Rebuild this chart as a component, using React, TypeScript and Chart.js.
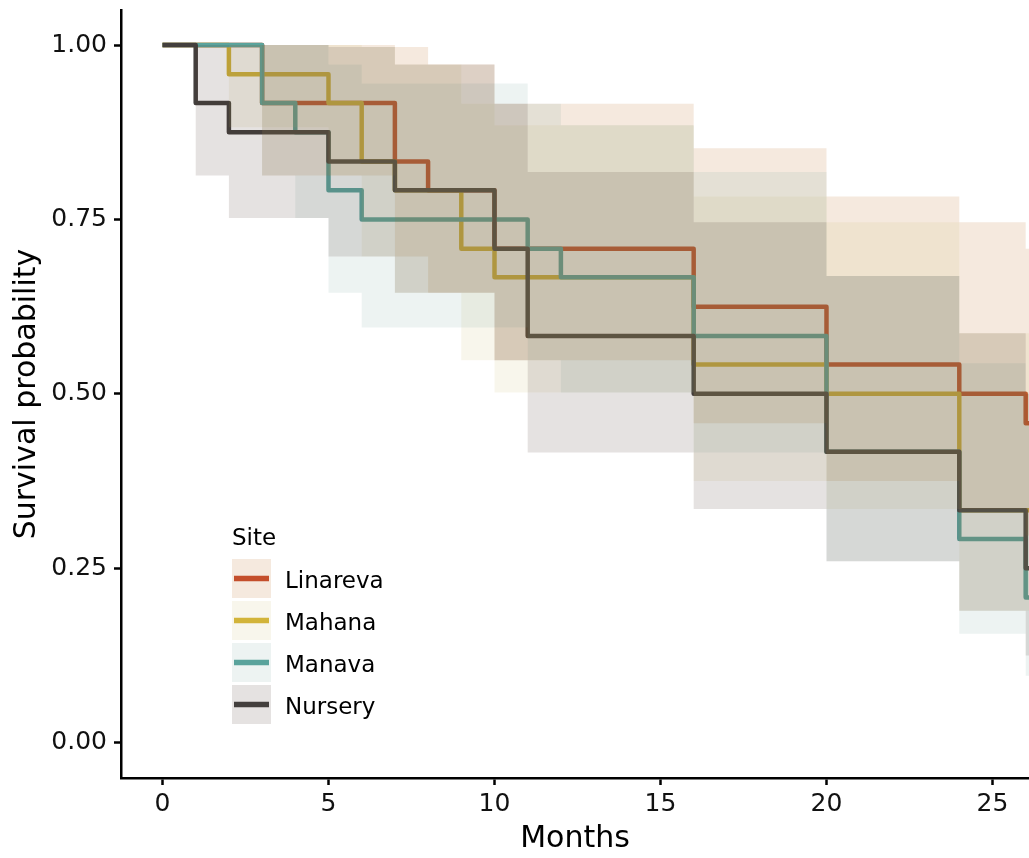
import React, { useEffect, useRef } from "react";
import { Chart, registerables } from "chart.js";

Chart.register(...registerables);

// ---- Data ----
const sites = ["Linareva", "Mahana", "Manava", "Nursery"];

const linarevaTime = [0, 3, 7, 8, 10, 16, 20, 24, 26, 27];
const linarevaSurv = [1, 0.917, 0.833, 0.792, 0.708, 0.625, 0.542, 0.5, 0.458, 0.458];
const linarevaLower = [1, 0.813, 0.697, 0.645, 0.548, 0.458, 0.375, 0.335, 0.297, 0.297];
const linarevaUpper = [1, 1, 0.997, 0.972, 0.916, 0.852, 0.783, 0.746, 0.708, 0.708];

const mahanaTime = [0, 2, 5, 6, 7, 9, 10, 16, 20, 24, 27];
const mahanaSurv = [1, 0.958, 0.917, 0.833, 0.792, 0.708, 0.667, 0.542, 0.5, 0.333, 0.333];
const mahanaLower = [1, 0.882, 0.813, 0.697, 0.645, 0.548, 0.502, 0.375, 0.335, 0.189, 0.189];
const mahanaUpper = [1, 1, 1, 0.997, 0.972, 0.916, 0.885, 0.783, 0.746, 0.587, 0.587];

const manavaTime = [0, 3, 4, 5, 6, 11, 12, 16, 20, 24, 26, 27];
const manavaSurv = [1, 0.917, 0.875, 0.792, 0.75, 0.708, 0.667, 0.583, 0.417, 0.292, 0.208, 0.208];
const manavaLower = [1, 0.813, 0.752, 0.645, 0.595, 0.548, 0.502, 0.416, 0.26, 0.156, 0.096, 0.096];
const manavaUpper = [1, 1, 1, 0.972, 0.945, 0.916, 0.885, 0.818, 0.669, 0.544, 0.454, 0.454];

const nurseryTime = [0, 1, 2, 5, 7, 10, 11, 16, 20, 24, 26, 27];
const nurserySurv = [1, 0.917, 0.875, 0.833, 0.792, 0.708, 0.583, 0.5, 0.417, 0.333, 0.25, 0.25];
const nurseryLower = [1, 0.813, 0.752, 0.697, 0.645, 0.548, 0.416, 0.335, 0.26, 0.189, 0.125, 0.125];
const nurseryUpper = [1, 1, 1, 0.997, 0.972, 0.916, 0.818, 0.746, 0.669, 0.587, 0.5, 0.5];

const xTicks = [0, 5, 10, 15, 20, 25];
const yTicks = [0, 0.25, 0.5, 0.75, 1];

const lineColors = ["#C44E2B", "#D2B43A", "#5AA39C", "#433F3D"];
const bandColors = [
  "rgba(182,102,22,0.14)",
  "rgba(200,185,100,0.12)",
  "rgba(105,155,147,0.12)",
  "rgba(70,52,46,0.14)",
];

const groups = [
  { t: linarevaTime, s: linarevaSurv, lo: linarevaLower, hi: linarevaUpper },
  { t: mahanaTime, s: mahanaSurv, lo: mahanaLower, hi: mahanaUpper },
  { t: manavaTime, s: manavaSurv, lo: manavaLower, hi: manavaUpper },
  { t: nurseryTime, s: nurserySurv, lo: nurseryLower, hi: nurseryUpper },
];

const FONT = '"DejaVu Sans", Verdana, sans-serif';

const legendPlugin = {
  id: "siteLegend",
  afterDraw(chart: any) {
    const ctx = chart.ctx as CanvasRenderingContext2D;
    ctx.save();
    ctx.font = `23px ${FONT}`;
    ctx.fillStyle = "#000";
    ctx.textAlign = "left";
    ctx.textBaseline = "alphabetic";
    ctx.fillText("Site", 232, 545);
    sites.forEach((name, i) => {
      const top = 559 + i * 42;
      ctx.fillStyle = "#fff";
      ctx.fillRect(232, top, 39, 39);
      ctx.fillStyle = bandColors[i];
      ctx.fillRect(232, top, 39, 39);
      ctx.strokeStyle = lineColors[i];
      ctx.lineWidth = 5.5;
      ctx.lineCap = "butt";
      ctx.beginPath();
      ctx.moveTo(234, top + 19.5);
      ctx.lineTo(269, top + 19.5);
      ctx.stroke();
      ctx.fillStyle = "#000";
      ctx.fillText(name, 285, top + 29);
    });
    ctx.restore();
  },
};

export default function App() {
  const ref = useRef<HTMLCanvasElement | null>(null);

  useEffect(() => {
    document.body.style.margin = "0";
    const canvas = ref.current;
    if (!canvas) return;

    const datasets: any[] = [];
    groups.forEach((g, i) => {
      // confidence band: upper filled to the following (lower) dataset
      datasets.push({
        label: sites[i] + " upper",
        data: g.t.map((t, k) => ({ x: t, y: g.hi[k] })),
        stepped: true,
        borderWidth: 0,
        pointRadius: 0,
        backgroundColor: bandColors[i],
        fill: "+1",
        order: 4 - i,
      });
      datasets.push({
        label: sites[i] + " lower",
        data: g.t.map((t, k) => ({ x: t, y: g.lo[k] })),
        stepped: true,
        borderWidth: 0,
        pointRadius: 0,
        fill: false,
        order: 30,
      });
    });
    groups.forEach((g, i) => {
      datasets.push({
        label: sites[i],
        data: g.t.map((t, k) => ({ x: t, y: g.s[k] })),
        stepped: true,
        borderColor: lineColors[i],
        borderWidth: 4.5,
        borderJoinStyle: "round",
        borderCapStyle: "butt",
        pointRadius: 0,
        fill: false,
        order: 20 - i,
      });
    });

    Chart.defaults.font.family = FONT;

    const chart = new Chart(canvas, {
      type: "line",
      data: { datasets },
      plugins: [legendPlugin],
      options: {
        responsive: false,
        animation: false,
        devicePixelRatio: 1,
        layout: { padding: { top: 10, right: 0, left: 0, bottom: 0 } },
        plugins: {
          legend: { display: false },
          tooltip: { enabled: false },
        },
        scales: {
          x: {
            type: "linear",
            min: -1.25,
            max: 26.1,
            afterFit: (s: any) => {
              s.height = 80;
              s.paddingLeft = 0;
              s.paddingRight = 0;
            },
            afterBuildTicks: (s: any) => {
              s.ticks = xTicks.map((v) => ({ value: v }));
            },
            ticks: {
              color: "#111",
              font: { size: 25, family: FONT },
              padding: 4,
              maxRotation: 0,
              callback: (v: any) => String(v),
            },
            grid: {
              display: true,
              drawOnChartArea: false,
              drawTicks: true,
              tickLength: 7,
              tickWidth: 2.5,
              tickColor: "#000",
            },
            border: { display: true, color: "#000", width: 2.5 },
            title: {
              display: true,
              text: "Months",
              color: "#000",
              font: { size: 30, family: FONT },
              padding: { top: 0, bottom: 1 },
            },
          },
          y: {
            type: "linear",
            min: -0.0506,
            max: 1.0502,
            afterFit: (s: any) => {
              s.width = 121;
              s.paddingTop = 0;
              s.paddingBottom = 0;
            },
            afterBuildTicks: (s: any) => {
              s.ticks = yTicks.map((v) => ({ value: v }));
            },
            ticks: {
              color: "#111",
              font: { size: 25, family: FONT },
              padding: 7,
              callback: (v: any) => Number(v).toFixed(2),
            },
            grid: {
              display: true,
              drawOnChartArea: false,
              drawTicks: true,
              tickLength: 7,
              tickWidth: 2.5,
              tickColor: "#000",
            },
            border: { display: true, color: "#000", width: 2.5 },
            title: {
              display: true,
              text: "Survival probability",
              color: "#000",
              font: { size: 30, family: FONT },
              padding: { top: 9, bottom: 0 },
            },
          },
        },
      },
    });

    return () => chart.destroy();
  }, []);

  return (
    <div style={{ position: "absolute", left: 0, top: 0, width: 1029, height: 858, background: "#fff" }}>
      <canvas ref={ref} width={1029} height={858} style={{ display: "block" }} />
    </div>
  );
}
